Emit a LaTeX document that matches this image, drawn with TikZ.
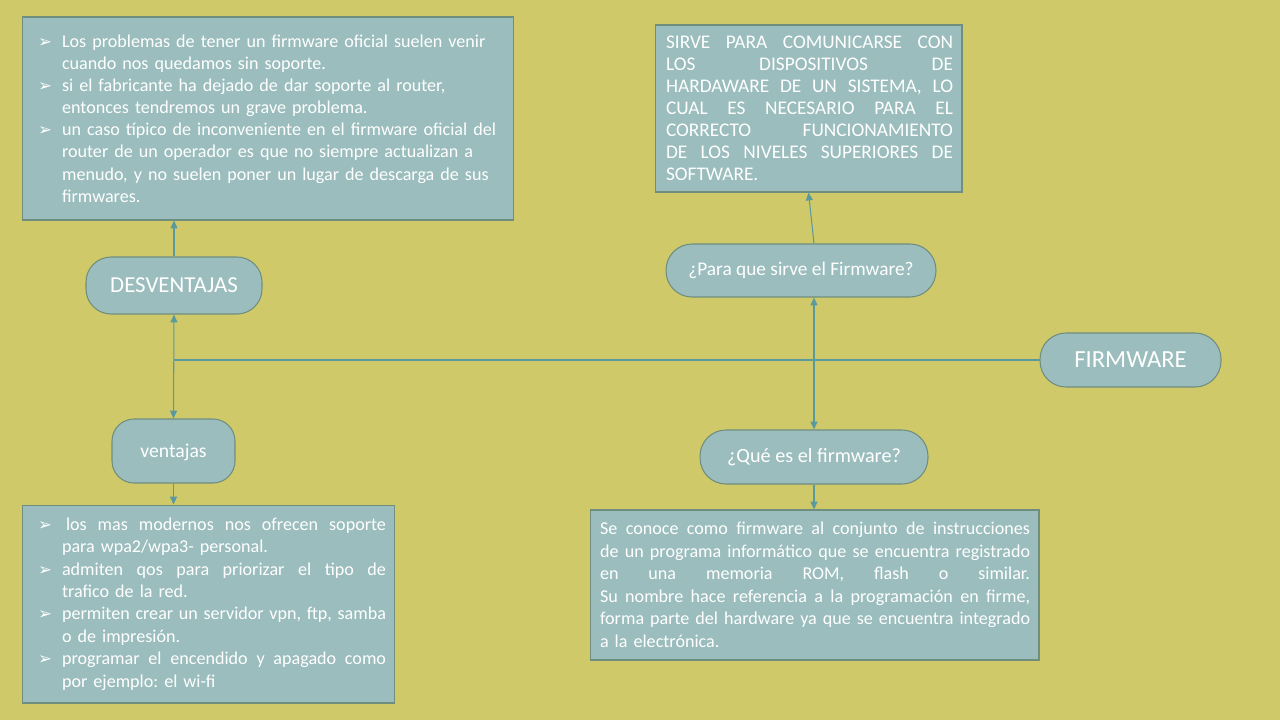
\documentclass[tikz,border=0pt]{standalone}
\usepackage{fontspec}
\setmainfont{Carlito}
\newfontfamily\dejavu{DejaVu Sans}
\usetikzlibrary{arrows.meta}
\definecolor{bg}{HTML}{D0C96A}
\definecolor{boxfill}{HTML}{9BBDBD}
\definecolor{boxline}{HTML}{6F8E7E}
\definecolor{conncol}{HTML}{5A9A9F}
\newlength\pxl \setlength\pxl{0.02cm}
\newlength\lm \newlength\bw \newlength\tw
\newcommand\bul{{\dejavu\fontsize{9.5}{10}\selectfont ➢}}
\newcommand\Lj[2]{\hspace*{\lm}\makebox[\bw][l]{#1}\hbox to\tw{\spaceskip=\fontdimen2\font plus 1fil\relax #2}}
\newcommand\Lr[2]{\hspace*{\lm}\makebox[\bw][l]{#1}\makebox[\tw][l]{#2}}
\tikzset{
  rbox/.style={draw=boxline, fill=boxfill, line width=0.6pt, text=white, inner xsep=0pt, inner ysep=0pt, align=left, font=\fontsize{10.3}{12.6}\selectfont\frenchspacing},
  pill/.style={draw=boxline, fill=boxfill, line width=0.6pt, text=white, inner sep=0pt, rounded corners=0.5cm},
  conn/.style={draw=conncol, line width=0.6pt},
  tip/.tip={Triangle[length=4.5pt,width=4pt]}
}
\begin{document}
\frenchspacing
\begin{tikzpicture}[x=0.02cm,y=-0.02cm]
\useasboundingbox (0,0) rectangle (1280,720);
\fill[bg] (0,0) rectangle (1280,720);

% text boxes
\node[rbox, minimum width=9.84cm, minimum height=4.06cm, text width=9.84cm] (dtxt) at (268,118.5) {%
\setlength\lm{16\pxl}\setlength\bw{24\pxl}\setlength\tw{436\pxl}%
\Lr{\bul}{Los problemas de tener un firmware oficial suelen venir}\\
\Lr{}{cuando nos quedamos sin soporte.}\\
\Lr{\bul}{si el fabricante ha dejado de dar soporte al router,}\\
\Lr{}{entonces tendremos un grave problema.}\\
\Lr{\bul}{un caso típico de inconveniente en el firmware oficial del}\\
\Lr{}{router de un operador es que no siempre actualizan a}\\
\Lr{}{menudo, y no suelen poner un lugar de descarga de sus}\\
\Lr{}{firmwares.}};

\node[rbox, minimum width=6.14cm, minimum height=3.34cm, text width=6.14cm, font=\fontsize{11}{12.5}\selectfont\frenchspacing] (stxt) at (808.5,108.5) {%
\setlength\lm{11\pxl}\setlength\bw{0pt}\setlength\tw{287\pxl}%
\Lj{}{SIRVE PARA COMUNICARSE CON}\\
\Lj{}{LOS DISPOSITIVOS DE}\\
\Lj{}{HARDAWARE DE UN SISTEMA, LO}\\
\Lj{}{CUAL ES NECESARIO PARA EL}\\
\Lj{}{CORRECTO FUNCIONAMIENTO}\\
\Lj{}{DE LOS NIVELES SUPERIORES DE}\\
\Lr{}{SOFTWARE.}};

\node[rbox, minimum width=7.46cm, minimum height=3.96cm, text width=7.46cm, font=\fontsize{10.3}{12.8}\selectfont\frenchspacing] (vtxt) at (208.5,604) {%
\setlength\lm{16\pxl}\setlength\bw{24\pxl}\setlength\tw{324\pxl}%
\Lj{\bul}{\hspace*{4\pxl}los mas modernos nos ofrecen soporte}\\
\Lr{}{para wpa2/wpa3- personal.}\\
\Lj{\bul}{admiten qos para priorizar el tipo de}\\
\Lr{}{trafico de la red.}\\
\Lj{\bul}{permiten crear un servidor vpn, ftp, samba}\\
\Lr{}{o de impresión.}\\
\Lj{\bul}{programar el encendido y apagado como}\\
\Lr{}{por ejemplo: el wi-fi}};

\node[rbox, minimum width=8.98cm, minimum height=3.0cm, text width=8.98cm, font=\fontsize{10.3}{12.8}\selectfont\frenchspacing] (qtxt) at (814.5,585) {%
\setlength\lm{10\pxl}\setlength\bw{0pt}\setlength\tw{430\pxl}%
\Lj{}{Se conoce como firmware al conjunto de instrucciones}\\
\Lj{}{de un programa informático que se encuentra registrado}\\
\Lj{}{en una memoria ROM, flash o similar.}\\
\Lj{}{Su nombre hace referencia a la programación en firme,}\\
\Lj{}{forma parte del hardware ya que se encuentra integrado}\\
\Lr{}{a la electrónica.}};

% rounded nodes
\node[pill, minimum width=3.52cm, minimum height=1.14cm, font=\fontsize{13}{15}\selectfont] (des) at (174,285.5) {DESVENTAJAS};
\node[pill, minimum width=2.46cm, minimum height=1.28cm, rounded corners=0.44cm, font=\fontsize{11.2}{13}\selectfont, text height=2.6mm, text depth=0.2mm] (ven) at (173.5,451) {ventajas};
\node[pill, minimum width=5.4cm, minimum height=1.06cm, rounded corners=0.52cm, font=\fontsize{11}{13}\selectfont] (para) at (801,270.5) {¿Para que sirve el Firmware?};
\node[pill, minimum width=3.62cm, minimum height=1.08cm, rounded corners=0.52cm, font=\fontsize{14}{16}\selectfont] (fw) at (1130.5,360) {FIRMWARE};
\node[pill, minimum width=4.56cm, minimum height=1.08cm, rounded corners=0.52cm, font=\fontsize{11.5}{13}\selectfont] (que) at (814,457) {¿Qué es el firmware?};

\coordinate (j) at (174,360);

% connectors
\draw[conn] (fw.west) -- (j);
\draw[conn, tip-tip] (des.south) -- (ven.north);
\draw[conn, -tip] (des.north) -- (des.north |- dtxt.south);
\draw[conn, -tip] (ven.south) -- (ven.south |- vtxt.north);
\draw[conn, tip-tip] (que.north |- para.south) -- (que.north);
\draw[conn, -tip] (que.north |- para.north) -- (stxt.south);
\draw[conn, -tip] (que.south) -- (que.south |- qtxt.north);
\end{tikzpicture}
\end{document}
